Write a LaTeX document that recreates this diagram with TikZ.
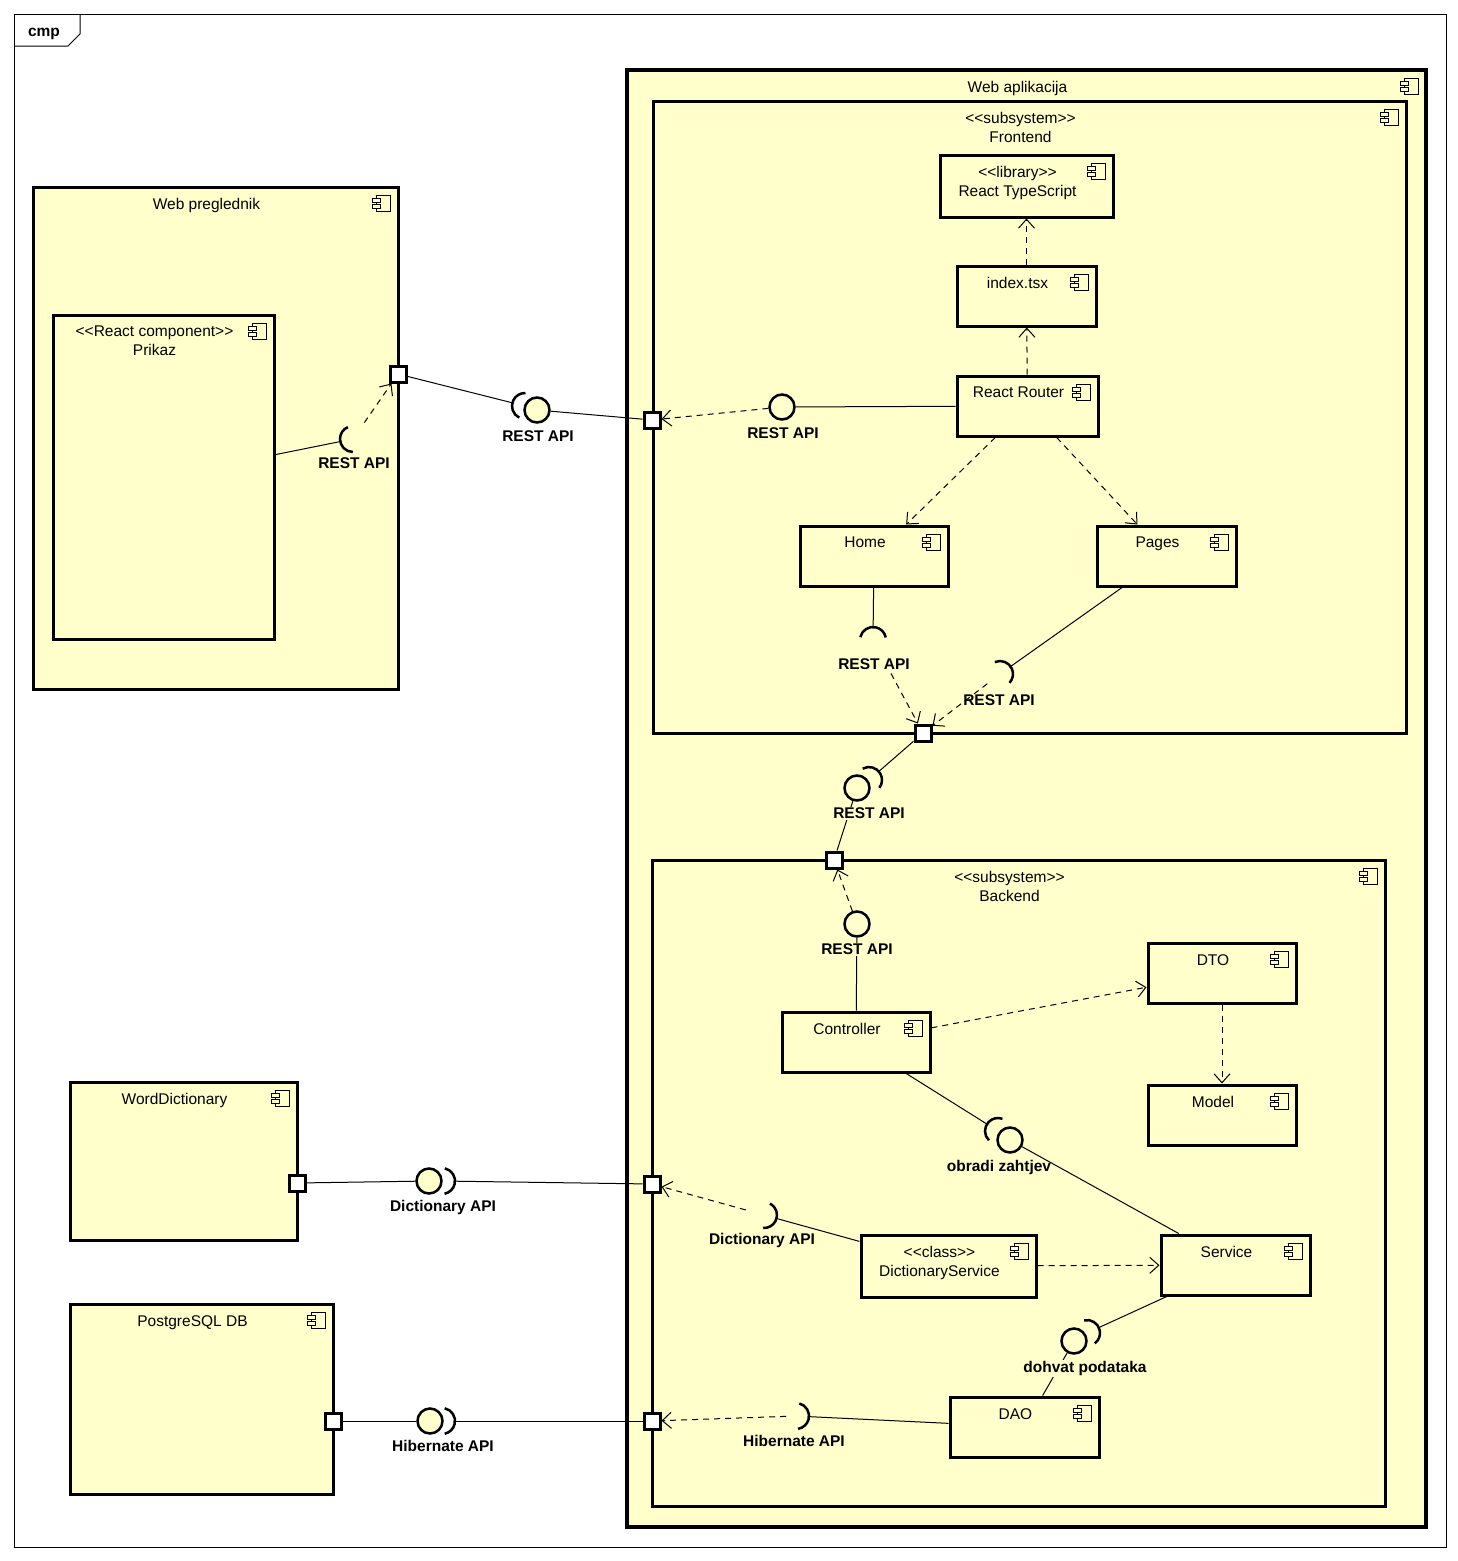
\documentclass[tikz,border=0pt]{standalone}
\usepackage{fontspec}
\setmainfont{Liberation Sans}
\usetikzlibrary{arrows.meta,calc}
\definecolor{compfill}{HTML}{FFFFCC}

\tikzset{
  box/.style={draw, line width=3pt, fill=compfill, rectangle, inner sep=0pt},
  port/.style={draw, line width=3pt, fill=white, rectangle, minimum size=16pt, inner sep=0pt},
  ball/.style={draw, line width=2.5pt, fill=compfill, circle, minimum size=25pt, inner sep=0pt},
  sock/.style={line width=2.5pt},
  conn/.style={line width=1pt},
  dep/.style={line width=1pt, dash pattern=on 6pt off 5pt, -{Straight Barb[length=9pt,width=16pt]}},
  ttl/.style={font=\fontsize{15.5}{19}\selectfont, align=center, inner sep=0pt, anchor=north},
  ifl/.style={font=\fontsize{15.5}{19}\selectfont\bfseries, inner sep=1pt, anchor=base, yshift=-5.5pt},
  iflf/.style={ifl, fill=compfill},
}

% stereotype brackets kept apart from the TeX ligature mapping
\newcommand\ster[1]{<\kern0pt<#1>\kern0pt>}

% component: [style] name, x1, y1, x2, y2, title
\newcommand\comp[7][box]{%
  \node[#1, minimum width={#5-#3}, minimum height={#6-#4}] (#2) at ({(#3+#5)/2},{(#4+#6)/2}) {};
  \node[ttl] (#2-title) at ({(#3+#5)/2-9},{#4+11}) {#7};
  \draw[line width=1pt, fill=compfill] ({#5-22},{#4+8}) rectangle ({#5-8},{#4+24});
  \draw[line width=1pt, fill=compfill] ({#5-26},{#4+11}) rectangle ({#5-18},{#4+15});
  \draw[line width=1pt, fill=compfill] ({#5-26},{#4+17}) rectangle ({#5-18},{#4+21});
}

% required-interface socket: name, x, y, facing angle
\newcommand\socket[4]{%
  \coordinate (#1) at (#2,#3);
  \draw[sock] ({#2+13*cos(#4-78)},{#3+13*sin(#4-78)}) arc[start angle={#4-78}, end angle={#4+78}, radius=13];
}

\begin{document}
\begin{tikzpicture}[x=1pt,y=-1pt]
\useasboundingbox (0,0) rectangle (1458,1561);
\fill[white] (0,0) rectangle (1458,1561);

% diagram frame
\draw[line width=1pt] (14,14) rectangle (1446,1547);
\draw[line width=1pt] (14,46) -- (68,46) -- (80,34) -- (80,14);
\node[ifl] (cmp) at (44,31) {cmp};

% browser side
\comp{browser}{33}{187}{398}{689}{Web preglednik}
\comp{prikaz}{53}{315}{274}{639}{\ster{React component}\\Prikaz}

% application
\comp[box, line width=3.5pt]{app}{627}{70}{1426}{1527}{Web aplikacija}
\comp{frontend}{653}{101}{1406}{733}{\ster{subsystem}\\Frontend}
\comp{ts}{940}{155}{1113}{217}{\ster{library}\\React TypeScript}
\comp{index}{957}{266}{1096}{326}{index.tsx}
\comp{router}{957}{376}{1098}{436}{React Router}
\comp{home}{800}{526}{948}{586}{Home}
\comp{pages}{1097}{526}{1236}{586}{Pages}

\comp{backend}{652}{860}{1385}{1506}{\ster{subsystem}\\Backend}
\comp{ctrl}{782}{1012}{930}{1072}{Controller}
\comp{dto}{1148}{943}{1296}{1003}{DTO}
\comp{model}{1148}{1085}{1296}{1145}{Model}
\comp{service}{1161}{1235}{1310}{1295}{Service}
\comp{dicts}{861}{1235}{1036}{1297}{\ster{class}\\DictionaryService}
\comp{dao}{950}{1397}{1099}{1457}{DAO}

% external systems
\comp{wdict}{70}{1082}{297}{1240}{WordDictionary}
\comp{pg}{70}{1304}{333}{1494}{PostgreSQL DB}

% ports
\node[port] (pW)  at (398,374) {};
\node[port] (pFL) at (652,420) {};
\node[port] (pFB) at (923,733) {};
\node[port] (pBT) at (834,860) {};
\node[port] (pBD) at (652,1184) {};
\node[port] (pBH) at (652,1421) {};
\node[port] (pWD) at (297,1183) {};
\node[port] (pPG) at (333,1421) {};

% provided interfaces
\node[ball] (b2)  at (537,410) {};
\node[ball] (bRR) at (782,407) {};
\node[ball] (b6)  at (857,788) {};
\node[ball] (bBR) at (857,924) {};
\node[ball] (b7)  at (1010,1140) {};
\node[ball] (b8)  at (1074,1341) {};
\node[ball] (b11) at (429,1181) {};
\node[ball] (b12) at (430,1421) {};

% required interfaces
\socket{s1}{353}{439}{168.7}
\socket{s2}{525}{406}{194.1}
\socket{sH}{873}{640}{-89.3}
\socket{sP}{1000}{674}{-35.3}
\socket{s6}{869}{780}{-41}
\socket{s7}{998}{1131}{212.1}
\socket{s8}{1087}{1333}{-24.6}
\socket{sD}{764}{1215}{15.5}
\socket{sHb}{796}{1416}{2.8}
\socket{s11}{442}{1181}{0.8}
\socket{s12}{442}{1421}{0}

% connectors
\draw[conn] (prikaz) -- ($(s1)!13pt!(prikaz)$);
\draw[dep, shorten <=20pt] (s1) -- (pW);
\draw[conn] (pW) -- ($(s2)!13pt!(pW)$);
\draw[conn] (b2) -- (pFL);
\draw[conn] (bRR) -- (router);
\draw[dep] (bRR) -- (pFL);
\draw[dep] (index) -- (ts);
\draw[dep] (router) -- (index);
\draw[dep] (router) -- (home);
\draw[dep] (router) -- (pages);
\draw[conn] (home) -- ($(sH)!13pt!(home)$);
\draw[dep, shorten <=38pt] (sH) -- (pFB);
\draw[conn] (pages) -- ($(sP)!13pt!(pages)$);
\draw[dep, shorten <=16pt] (sP) -- (pFB);
\draw[conn] (pFB) -- ($(s6)!13pt!(pFB)$);
\draw[conn] (b6) -- (pBT);
\draw[dep] (bBR) -- (pBT);
\draw[conn] (bBR) -- (ctrl);
\draw[dep] (ctrl) -- (dto);
\draw[dep] (dto) -- (model);
\draw[dep] (dicts) -- (service);
\draw[conn] (ctrl) -- ($(s7)!13pt!(ctrl)$);
\draw[conn] (b7) -- (service);
\draw[conn] (service) -- ($(s8)!13pt!(service)$);
\draw[conn] (b8) -- (dao);
\draw[conn] (dicts) -- ($(sD)!13pt!(dicts)$);
\draw[dep, shorten <=19pt] (sD) -- (pBD);
\draw[conn] (dao) -- ($(sHb)!13pt!(dao)$);
\draw[dep, shorten <=10pt] (sHb) -- (pBH);
\draw[conn] (pWD) -- (b11);
\draw[conn] ($(s11)!13pt!(pBD)$) -- (pBD);
\draw[conn] (pPG) -- (b12);
\draw[conn] ($(s12)!13pt!(pBH)$) -- (pBH);

% interface labels
\node[ifl]  (l1)  at (354,463) {REST API};
\node[ifl]  (l2)  at (538,436) {REST API};
\node[ifl]  (lRR) at (783,433) {REST API};
\node[ifl]  (lH)  at (874,664) {REST API};
\node[ifl]  (lP)  at (999,700) {REST API};
\node[iflf] (l6)  at (869,813) {REST API};
\node[iflf] (lBR) at (857,949) {REST API};
\node[ifl]  (l7)  at (999,1166) {obradi zahtjev};
\node[iflf] (l8)  at (1085,1367) {dohvat podataka};
\node[ifl]  (lD)  at (762,1239) {Dictionary API};
\node[ifl]  (lHb) at (794,1441) {Hibernate API};
\node[ifl]  (l11) at (443,1206) {Dictionary API};
\node[ifl]  (l12) at (443,1446) {Hibernate API};
\end{tikzpicture}
\end{document}
